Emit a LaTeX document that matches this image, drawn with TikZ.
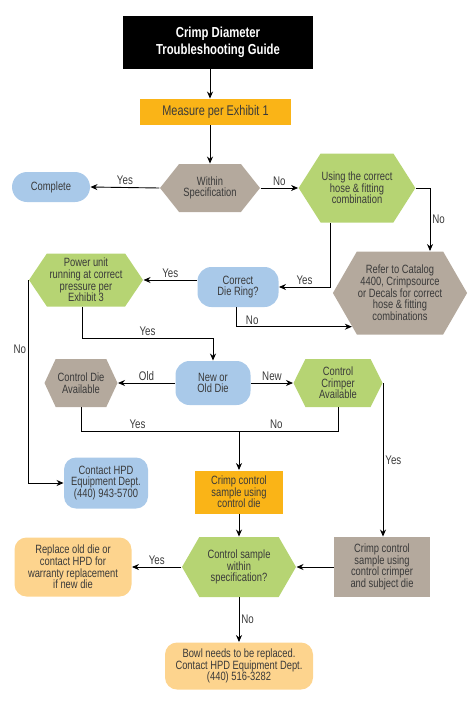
\documentclass[tikz,border=0pt]{standalone}
\usepackage{fontspec}
\setmainfont{Liberation Sans}[FakeStretch=0.78]
\usepackage{tikz}
\usetikzlibrary{arrows.meta,shapes.symbols,calc}

\definecolor{hpdOrange}{HTML}{FAB417}
\definecolor{hpdTaupe}{HTML}{B4A99D}
\definecolor{hpdGreen}{HTML}{B6D473}
\definecolor{hpdBlue}{HTML}{A9C9E9}
\definecolor{hpdPeach}{HTML}{FDD48E}
\definecolor{hpdText}{HTML}{3A3A3A}

\begin{document}
\begin{tikzpicture}[x=1pt, y=-1pt, line width=0.9pt,
  base/.style={inner sep=1pt, align=center, text=hpdText, font=\fontsize{12}{11.7}\selectfont},
  hexbox/.style={base, signal, signal to=west and east, signal pointer angle=115},
  pill/.style={base, rounded corners=12pt},
  lbl/.style={inner sep=2pt, text=hpdText, font=\fontsize{12.5}{13}\selectfont},
  arr/.style={-{Stealth[length=7pt, width=6pt]}}]
\useasboundingbox (0,0) rectangle (476,704);

% boxes
\node[base, fill=black, text=white, font=\bfseries\fontsize{14.5}{16.5}\selectfont, minimum width=190pt, minimum height=53pt] (title) at (218,42.5) {Crimp Diameter\\Troubleshooting Guide};
\node[base, fill=hpdOrange, font=\fontsize{14}{14}\selectfont, minimum width=151pt, minimum height=26pt] (measure) at (215.5,112) {Measure per Exhibit 1};
\node[hexbox, fill=hpdTaupe, minimum width=100pt, minimum height=48pt, signal pointer angle=103] (within) at (210,188) {Within\\Specification};
\node[pill, fill=hpdBlue, rounded corners=15pt, minimum width=78pt, minimum height=30pt] (complete) at (51,187) {Complete};
\node[hexbox, fill=hpdGreen, minimum width=114pt, minimum height=69pt] (using) at (357,188) {Using the correct\\hose \& fitting\\combination};
\node[hexbox, fill=hpdTaupe, minimum width=128pt, minimum height=83pt, signal pointer angle=120] (refer) at (400,293) {Refer to Catalog\\4400, Crimpsource\\or Decals for correct\\hose \& fitting\\combinations};
\node[pill, fill=hpdBlue, rounded corners=14pt, minimum width=81pt, minimum height=40pt] (die) at (238,287) {Correct\\Die Ring?};
\node[hexbox, fill=hpdGreen, minimum width=114pt, minimum height=53pt, signal pointer angle=112] (power) at (86,280) {Power unit\\running at correct\\pressure per\\Exhibit 3};
\node[pill, fill=hpdBlue, rounded corners=14pt, minimum width=75pt, minimum height=44pt] (neworold) at (213,383) {New or\\Old Die};
\node[hexbox, fill=hpdTaupe, minimum width=73pt, minimum height=48pt, signal pointer angle=130] (ctrldie) at (81,383) {Control Die\\Available};
\node[hexbox, fill=hpdGreen, minimum width=89pt, minimum height=48pt, signal pointer angle=127] (ctrlcrimp) at (338,383) {Control\\Crimper\\Available};
\node[pill, fill=hpdBlue, minimum width=84pt, minimum height=51pt] (contact) at (106,483) {Contact HPD\\Equipment Dept.\\(440) 943-5700};
\node[base, fill=hpdOrange, minimum width=88pt, minimum height=43pt] (sample) at (239,492) {Crimp control\\sample using\\control die};
\node[hexbox, fill=hpdGreen, minimum width=114pt, minimum height=60pt, signal pointer angle=120] (ctrlsample) at (239,567) {Control sample\\within\\specification?};
\node[base, fill=hpdTaupe, minimum width=96pt, minimum height=60pt] (crimpsample) at (382,567) {Crimp control\\sample using\\control crimper\\and subject die};
\node[pill, fill=hpdPeach, minimum width=117pt, minimum height=59pt] (replace) at (73,567) {Replace old die or\\contact HPD for\\warranty replacement\\if new die};
\node[pill, fill=hpdPeach, minimum width=148pt, minimum height=47pt] (bowl) at (239,666) {Bowl needs to be replaced.\\Contact HPD Equipment Dept.\\(440) 516-3282};

% connectors
\draw[arr] (title.south -| within.north) -- (measure.north -| within.north);
\draw[arr] (measure.south -| within.north) -- (within.north);
\draw[arr] (within.west) -- node[lbl, above] {Yes} (complete.east);
\draw[arr] (within.east) -- node[lbl, above] {No} (using.west);
\draw[arr] (using.east) -| node[lbl, right, pos=0.75] {No} ([xshift=30pt]refer.north);
\draw[arr] ([xshift=-27pt]using.south) |- node[lbl, above, pos=0.75] {Yes} (die.east);
\draw[arr] (die.west |- power.east) -- node[lbl, above] {Yes} (power.east);
\draw[arr] ([xshift=-2pt]die.south) |- node[lbl, above, pos=0.57] {No} (refer.-145);
\draw[arr] ([xshift=-4pt]power.south) -- ++(0,31) -| node[lbl, above, pos=0.25] {Yes} (neworold.north);
\draw[arr] (power.west) |- node[lbl, left, pos=0.17] {No} (contact.west);
\draw[arr] (neworold.west) -- node[lbl, above] {Old} (ctrldie.east);
\draw[arr] (neworold.east) -- node[lbl, above] {New} (ctrlcrimp.west);
\path (ctrldie.south) -- ++(0,24) coordinate (merge);
\draw (ctrldie.south) -- (merge) -| node[lbl, above, pos=0.11] {Yes} node[lbl, above, pos=0.38] {No} (ctrlcrimp.south);
\draw[arr] (merge -| sample.north) -- (sample.north);
\draw[arr] (ctrlcrimp.east) -- node[lbl, right] {Yes} (ctrlcrimp.east |- crimpsample.north);
\draw[arr] (sample.south) -- (ctrlsample.north);
\draw[arr] (crimpsample.west) -- (ctrlsample.east);
\draw[arr] (ctrlsample.west) -- node[lbl, above] {Yes} (replace.east);
\draw[arr] (ctrlsample.south) -- node[lbl, right] {No} (bowl.north);
\end{tikzpicture}
\end{document}
